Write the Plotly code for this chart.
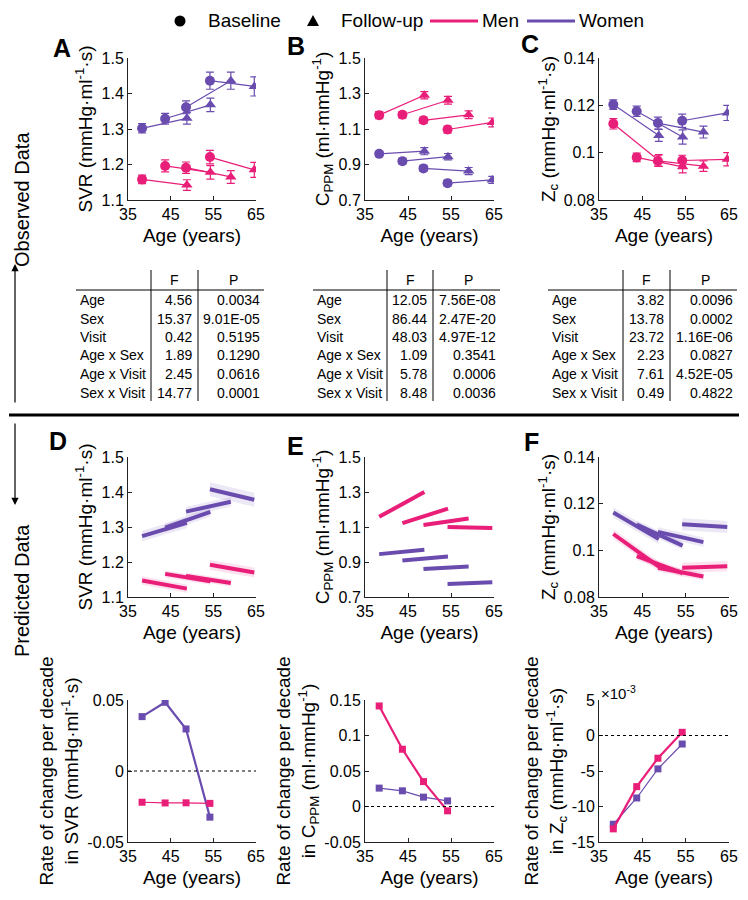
import plotly.graph_objects as go

# The page body adds an 8 px margin, so the figure is drawn 8 px in from the
# window's top-left corner; all positions below are in window pixels.
OX, OY = 8, 8
W, H = 732, 884
MEN = "#E91E78"
WOMEN = "#6A4CAF"
MEN_BAND = "rgba(233,30,120,0.13)"
WOMEN_BAND = "rgba(106,76,175,0.13)"
FONT = "Liberation Sans, Arial, sans-serif"

# ---------------- data ----------------
base_age = [38.3, 43.7, 48.6, 54.2]
fu_age = [48.8, 54.3, 59.1, 64.6]

# A: SVR observed
svr_men_base = [1.158, 1.196, 1.191, 1.221]
svr_men_base_err = [0.012, 0.017, 0.016, 0.019]
svr_men_fu = [1.142, 1.178, 1.165, 1.185]
svr_men_fu_err = [0.015, 0.019, 0.018, 0.021]
svr_women_base = [1.302, 1.329, 1.361, 1.436]
svr_women_base_err = [0.013, 0.015, 0.018, 0.024]
svr_women_fu = [1.330, 1.368, 1.436, 1.420]
svr_women_fu_err = [0.016, 0.019, 0.024, 0.027]

# B: C_PPM observed
cppm_men_base = [1.178, 1.180, 1.149, 1.097]
cppm_men_base_err = [0.020, 0.018, 0.018, 0.020]
cppm_men_fu = [1.290, 1.262, 1.180, 1.137]
cppm_men_fu_err = [0.020, 0.022, 0.022, 0.025]
cppm_women_base = [0.960, 0.919, 0.878, 0.795]
cppm_women_base_err = [0.012, 0.015, 0.017, 0.016]
cppm_women_fu = [0.975, 0.944, 0.863, 0.813]
cppm_women_fu_err = [0.020, 0.018, 0.020, 0.020]

# C: Zc observed
zc_men_base = [0.1122, 0.0980, 0.0965, 0.0967]
zc_men_base_err = [0.0022, 0.0018, 0.0022, 0.0022]
zc_men_fu = [0.0967, 0.0940, 0.0943, 0.0972]
zc_men_fu_err = [0.0025, 0.0025, 0.0022, 0.0028]
zc_women_base = [0.1203, 0.1175, 0.1125, 0.1135]
zc_women_base_err = [0.0020, 0.0022, 0.0025, 0.0028]
zc_women_fu = [0.1073, 0.1066, 0.1087, 0.1168]
zc_women_fu_err = [0.0025, 0.0030, 0.0025, 0.0032]

# D/E/F: predicted segments (value at baseline age, value at follow-up age, band half-width)
pred_svr_men_start = [1.147, 1.166, 1.160, 1.192]
pred_svr_men_end = [1.124, 1.145, 1.140, 1.170]
pred_svr_men_band = [0.012, 0.010, 0.010, 0.014]
pred_svr_women_start = [1.274, 1.298, 1.344, 1.408]
pred_svr_women_end = [1.312, 1.343, 1.372, 1.378]
pred_svr_women_band = [0.015, 0.013, 0.014, 0.020]

pred_cppm_men_start = [1.158, 1.122, 1.112, 1.100]
pred_cppm_men_end = [1.300, 1.205, 1.148, 1.095]
pred_cppm_men_band = [0.010, 0.008, 0.008, 0.010]
pred_cppm_women_start = [0.945, 0.908, 0.860, 0.775]
pred_cppm_women_end = [0.970, 0.932, 0.875, 0.785]
pred_cppm_women_band = [0.008, 0.007, 0.007, 0.008]

pred_zc_men_start = [0.1070, 0.0975, 0.0925, 0.0925]
pred_zc_men_end = [0.0930, 0.0902, 0.0888, 0.0932]
pred_zc_men_band = [0.0020, 0.0016, 0.0016, 0.0022]
pred_zc_women_start = [0.1162, 0.1110, 0.1079, 0.1112]
pred_zc_women_end = [0.1048, 0.1020, 0.1035, 0.1100]
pred_zc_women_band = [0.0022, 0.0018, 0.0020, 0.0026]

# bottom: rate of change per decade
rate_age = [38.3, 43.7, 48.6, 54.2]
rate_svr_men = [-0.0220, -0.0225, -0.0224, -0.0228]
rate_svr_women = [0.0383, 0.0484, 0.0296, -0.0325]
rate_cppm_men = [0.1416, 0.0806, 0.0351, -0.0061]
rate_cppm_women = [0.0259, 0.0221, 0.0132, 0.0079]
rate_zc_men = [-13.15, -7.2, -3.2, 0.45]      # x 10^-3
rate_zc_women = [-12.5, -8.8, -4.7, -1.2]     # x 10^-3

# tables
table_rows = ["Age", "Sex", "Visit", "Age x Sex", "Age x Visit", "Sex x Visit"]
svr_F = ["4.56", "15.37", "0.42", "1.89", "2.45", "14.77"]
svr_P = ["0.0034", "9.01E-05", "0.5195", "0.1290", "0.0616", "0.0001"]
cppm_F = ["12.05", "86.44", "48.03", "1.09", "5.78", "8.48"]
cppm_P = ["7.56E-08", "2.47E-20", "4.97E-12", "0.3541", "0.0006", "0.0036"]
zc_F = ["3.82", "13.78", "23.72", "2.23", "7.61", "0.49"]
zc_P = ["0.0096", "0.0002", "1.16E-06", "0.0827", "4.52E-05", "0.4822"]

legend_labels = ["Baseline", "Follow-up", "Men", "Women"]
age_ticks = [35, 45, 55, 65]

# ---------------- layout helpers ----------------
def px(x):
    return (x - OX) / W


def py(y):
    return 1 - (y - OY) / H


col_px = [(128, 256), (365, 494), (599, 729)]
row_px = [(58, 200), (457, 597), (700, 842)]

fig = go.Figure()
layout = dict(
    width=W, height=H, autosize=False,
    margin=dict(l=0, r=0, t=0, b=0, autoexpand=False),
    paper_bgcolor="white", plot_bgcolor="white",
    font=dict(family=FONT, size=16, color="black"),
    showlegend=False,
)

yspecs = {
    1: dict(range=[1.1, 1.5], tickvals=[1.1, 1.2, 1.3, 1.4, 1.5], ticktext=["1.1", "1.2", "1.3", "1.4", "1.5"],
            title="SVR (mmHg·ml<sup>-1</sup>·s)"),
    2: dict(range=[0.7, 1.5], tickvals=[0.7, 0.9, 1.1, 1.3, 1.5], ticktext=["0.7", "0.9", "1.1", "1.3", "1.5"],
            title="C<sub>PPM</sub> (ml·mmHg<sup>-1</sup>)"),
    3: dict(range=[0.08, 0.14], tickvals=[0.08, 0.1, 0.12, 0.14], ticktext=["0.08", "0.1", "0.12", "0.14"],
            title="Z<sub>c</sub> (mmHg·ml<sup>-1</sup>·s)"),
    7: dict(range=[-0.05, 0.05], tickvals=[-0.05, 0, 0.05], ticktext=["-0.05", "0", "0.05"],
            title="Rate of change per decade<br>in SVR (mmHg·ml<sup>-1</sup>·s)"),
    8: dict(range=[-0.05, 0.15], tickvals=[-0.05, 0, 0.05, 0.1, 0.15], ticktext=["-0.05", "0", "0.05", "0.1", "0.15"],
            title="Rate of change per decade<br>in C<sub>PPM</sub> (ml·mmHg<sup>-1</sup>)"),
    9: dict(range=[-15, 5], tickvals=[-15, -10, -5, 0, 5], ticktext=["-15", "-10", "-5", "0", "5"],
            title="Rate of change per decade<br>in Z<sub>c</sub> (mmHg·ml<sup>-1</sup>·s)"),
}
yspecs[4] = yspecs[1]
yspecs[5] = yspecs[2]
yspecs[6] = yspecs[3]

for i in range(1, 10):
    r = (i - 1) // 3
    c = (i - 1) % 3
    xs = "" if i == 1 else str(i)
    x0, x1 = col_px[c]
    y0, y1 = row_px[r]
    spec = yspecs[i]
    layout["xaxis" + xs] = dict(
        domain=[px(x0), px(x1)], anchor="y" + xs, range=[35, 65], tickvals=age_ticks,
        showline=True, linecolor="#222", linewidth=1, ticks="inside", ticklen=4, tickcolor="#222",
        showgrid=False, zeroline=False, tickfont=dict(size=16), automargin=False,
        title=dict(text="Age (years)", font=dict(size=19), standoff=6),
    )
    layout["yaxis" + xs] = dict(
        domain=[py(y1), py(y0)], anchor="x" + xs, range=spec["range"], tickvals=spec["tickvals"],
        ticktext=spec["ticktext"], showline=True, linecolor="#222", linewidth=1, ticks="inside",
        ticklen=4, tickcolor="#222", showgrid=False, zeroline=False, tickfont=dict(size=16),
        automargin=False,
        title=dict(text=spec["title"], font=dict(size=19), standoff=3),
    )


def axn(i):
    return ("x" if i == 1 else "x%d" % i), ("y" if i == 1 else "y%d" % i)


def observed(i, mb, mbe, mf, mfe, wb, wbe, wf, wfe):
    xa, ya = axn(i)
    for color, b, be, f, fe in [(WOMEN, wb, wbe, wf, wfe), (MEN, mb, mbe, mf, mfe)]:
        lx, ly = [], []
        for k in range(len(base_age)):
            lx += [base_age[k], fu_age[k], None]
            ly += [b[k], f[k], None]
        fig.add_trace(go.Scatter(x=lx, y=ly, mode="lines", line=dict(color=color, width=1.2),
                                 xaxis=xa, yaxis=ya, hoverinfo="skip"))
        fig.add_trace(go.Scatter(x=base_age, y=b, mode="markers",
                                 marker=dict(symbol="circle", size=10, color=color),
                                 error_y=dict(type="data", array=be, color=color, thickness=1.2, width=4),
                                 xaxis=xa, yaxis=ya))
        fig.add_trace(go.Scatter(x=fu_age, y=f, mode="markers",
                                 marker=dict(symbol="triangle-up", size=10, color=color),
                                 error_y=dict(type="data", array=fe, color=color, thickness=1.2, width=4),
                                 xaxis=xa, yaxis=ya))


def predicted(i, ms, me, mbd, ws, we, wbd):
    xa, ya = axn(i)
    for color, band, s, e, bd in [(WOMEN, WOMEN_BAND, ws, we, wbd), (MEN, MEN_BAND, ms, me, mbd)]:
        for k in range(len(base_age)):
            xa0, xa1 = base_age[k], fu_age[k]
            fig.add_trace(go.Scatter(
                x=[xa0, xa1, xa1, xa0, xa0],
                y=[s[k] - bd[k], e[k] - bd[k], e[k] + bd[k], s[k] + bd[k], s[k] - bd[k]],
                mode="lines", fill="toself", fillcolor=band, line=dict(width=0),
                xaxis=xa, yaxis=ya, hoverinfo="skip"))
        lx, ly = [], []
        for k in range(len(base_age)):
            lx += [base_age[k], fu_age[k], None]
            ly += [s[k], e[k], None]
        fig.add_trace(go.Scatter(x=lx, y=ly, mode="lines", line=dict(color=color, width=4),
                                 xaxis=xa, yaxis=ya))


def rates(i, men, women, men_w, women_w):
    xa, ya = axn(i)
    for color, vals, lw in [(WOMEN, women, women_w), (MEN, men, men_w)]:
        fig.add_trace(go.Scatter(x=rate_age, y=vals, mode="lines+markers",
                                 line=dict(color=color, width=lw),
                                 marker=dict(symbol="square", size=7, color=color),
                                 xaxis=xa, yaxis=ya))


observed(1, svr_men_base, svr_men_base_err, svr_men_fu, svr_men_fu_err,
         svr_women_base, svr_women_base_err, svr_women_fu, svr_women_fu_err)
observed(2, cppm_men_base, cppm_men_base_err, cppm_men_fu, cppm_men_fu_err,
         cppm_women_base, cppm_women_base_err, cppm_women_fu, cppm_women_fu_err)
observed(3, zc_men_base, zc_men_base_err, zc_men_fu, zc_men_fu_err,
         zc_women_base, zc_women_base_err, zc_women_fu, zc_women_fu_err)

predicted(4, pred_svr_men_start, pred_svr_men_end, pred_svr_men_band,
          pred_svr_women_start, pred_svr_women_end, pred_svr_women_band)
predicted(5, pred_cppm_men_start, pred_cppm_men_end, pred_cppm_men_band,
          pred_cppm_women_start, pred_cppm_women_end, pred_cppm_women_band)
predicted(6, pred_zc_men_start, pred_zc_men_end, pred_zc_men_band,
          pred_zc_women_start, pred_zc_women_end, pred_zc_women_band)

rates(7, rate_svr_men, rate_svr_women, 1.2, 2.2)
rates(8, rate_cppm_men, rate_cppm_women, 2.2, 1.2)
rates(9, rate_zc_men, rate_zc_women, 2.2, 1.2)

shapes = []
annotations = []


def paper_text(text, x, y, size, xanchor="left", **kw):
    d = dict(text=text, xref="paper", yref="paper", x=px(x), y=py(y), xanchor=xanchor,
             yanchor="middle", showarrow=False, font=dict(size=size))
    d.update(kw)
    annotations.append(d)


# ---- manual legend (top) ----
LY = 21
shapes.append(dict(type="circle", xref="paper", yref="paper", x0=px(174.5), x1=px(185.5),
                   y0=py(LY + 5.5), y1=py(LY - 5.5), fillcolor="black", line=dict(width=0)))
shapes.append(dict(type="path", xref="paper", yref="paper",
                   path="M %f,%f L %f,%f L %f,%f Z" % (px(307), py(LY + 5), px(319), py(LY + 5), px(313), py(LY - 6)),
                   fillcolor="black", line=dict(width=0)))
shapes.append(dict(type="line", xref="paper", yref="paper", x0=px(430), x1=px(478), y0=py(LY), y1=py(LY),
                   line=dict(color=MEN, width=3)))
shapes.append(dict(type="line", xref="paper", yref="paper", x0=px(527), x1=px(575), y0=py(LY), y1=py(LY),
                   line=dict(color=WOMEN, width=3)))
for lab, lx in zip(legend_labels, [206, 339, 480, 577]):
    paper_text(lab, lx, LY, 19)

# zero dotted lines on bottom row
for i in (7, 8, 9):
    shapes.append(dict(type="line", xref="x%d domain" % i, yref="y%d" % i, x0=0, x1=1, y0=0, y1=0,
                       line=dict(color="black", width=1, dash="dot")))

# x10^-3 label
paper_text("×10<sup>-3</sup>", 599, 692, 15)

# panel letters
for letter, (lx, ly) in zip("ABCDEF", [(62, 48), (296, 46), (530, 44), (58, 441), (295, 446), (531, 442)]):
    paper_text("<b>%s</b>" % letter, lx, ly, 25, xanchor="center")

# tables
table_geom = [(78, 151, 198, 262), (315, 387, 433, 498), (550, 623, 670, 735)]
row_y = [300, 318.5, 337, 355.5, 374, 392.5]
for (left, v1, v2, right), Fv, Pv in zip(table_geom, [svr_F, cppm_F, zc_F], [svr_P, cppm_P, zc_P]):
    for vx in (v1, v2):
        shapes.append(dict(type="line", xref="paper", yref="paper", x0=px(vx), x1=px(vx), y0=py(270), y1=py(401),
                           line=dict(color="black", width=1)))
    shapes.append(dict(type="line", xref="paper", yref="paper", x0=px(left - 2), x1=px(right + 2),
                       y0=py(290), y1=py(290), line=dict(color="black", width=1)))
    paper_text("F", (v1 + v2) / 2, 280, 14, xanchor="center")
    paper_text("P", (v2 + right) / 2 + 3, 280, 14, xanchor="center")
    for k, lab in enumerate(table_rows):
        paper_text(lab, left, row_y[k], 14)
        paper_text(Fv[k], v2 - 4, row_y[k], 14, xanchor="right")
        paper_text(Pv[k], right, row_y[k], 14, xanchor="right")

# separator and side labels
shapes.append(dict(type="line", xref="paper", yref="paper", x0=px(9), x1=px(739), y0=py(415), y1=py(415),
                   line=dict(color="black", width=3)))
paper_text("Observed Data", 22, 200, 20, xanchor="center", textangle=-90)
paper_text("Predicted Data", 22, 591, 20, xanchor="center", textangle=-90)
annotations.append(dict(text="", xref="paper", yref="paper", x=px(15), y=py(264), ax=0, ay=140,
                        showarrow=True, arrowhead=2, arrowsize=1.2, arrowwidth=1.2, arrowcolor="black"))
annotations.append(dict(text="", xref="paper", yref="paper", x=px(15), y=py(505), ax=0, ay=-83,
                        showarrow=True, arrowhead=2, arrowsize=1.2, arrowwidth=1.2, arrowcolor="black"))

layout["shapes"] = shapes
layout["annotations"] = annotations
fig.update_layout(**layout)
fig.write_html("out.html")
